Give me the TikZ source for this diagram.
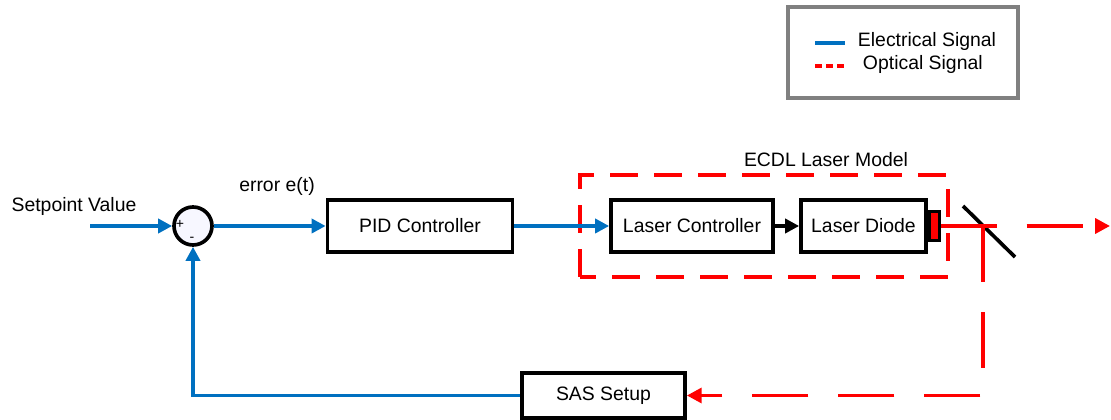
\documentclass[tikz,border=0pt]{standalone}
\usepackage{fontspec}
\setmainfont{Liberation Sans}
\usetikzlibrary{positioning,arrows.meta}
\definecolor{sigblue}{RGB}{0,112,192}
\definecolor{sigred}{RGB}{255,0,0}
\definecolor{framegray}{RGB}{128,128,128}

\begin{document}
\begin{tikzpicture}[x=0.025cm,y=0.025cm,
        every node/.style={font=\fontsize{13.8}{16}\selectfont},
        block/.style={draw,line width=2.6pt,minimum height=1.3cm,inner sep=0pt},
        elec/.style={sigblue,line width=2.6pt,-{Triangle[length=10pt,width=10pt]}},
        opt/.style={sigred,line width=2.6pt,dash pattern=on 1.4cm off 0.75cm,-{Triangle[length=10.5pt,width=10.5pt]}}]
        \useasboundingbox (0,0) rectangle (1111,420);
        % legend
        \draw[framegray,line width=2.8pt] (788,322) rectangle (1018,413);
        \node[anchor=west] (eleg) at (853,379) {Electrical Signal};
        \node[anchor=west] (oleg) at (858,356) {Optical Signal};
        \draw[sigblue,line width=2.6pt] (815,377) -- (845,377);
        \draw[sigred,line width=2.6pt,dash pattern=on 0.175cm off 0.1cm] (815,354) -- (845,354);
        % loop
        \coordinate (sp) at (90,194);
        \node (setpt) at (74,214) {Setpoint Value};
        \node[circle,draw,line width=2.6pt,minimum size=0.95cm,fill=blue!3,inner sep=0pt] (sum) at (193,194) {};
        \node[font=\fontsize{10}{12}\selectfont] (plus) at (180,196) {+};
        \node[font=\fontsize{10}{12}\selectfont] (minus) at (192,181) {-};
        \node (err) at (277,234) {error e(t)};
        \node[block,minimum width=4.625cm] (pid) at (420,194) {PID Controller};
        \draw[sigred,line width=2.6pt,dash pattern=on 0.7cm off 0.4cm] (580,143) rectangle (948,245);
        \node (ecdl) at (826,260) {ECDL Laser Model};
        \node[block,minimum width=4.05cm] (lc) at (692,194) {Laser Controller};
        \node[block,minimum width=3.125cm] (ld) at (863.5,194) {Laser Diode};
        \node[draw,line width=2pt,fill=sigred,minimum width=0.25cm,minimum height=0.725cm,inner sep=0pt,right=0pt of ld] (emit) {};
        \node[block,minimum width=4.075cm,minimum height=1.125cm] (sas) at (603.5,24.5) {SAS Setup};
        \coordinate (bs) at (983,194);
        \coordinate (beamend) at (1110,194);
        \draw[line width=2.6pt] (963,214) -- (1015,163);
        \draw[elec] (sp) -- (sum);
        \draw[elec] (sum) -- (pid);
        \draw[elec] (pid) -- (lc);
        \draw[line width=2.6pt,-{Triangle[length=10pt,width=10pt]}] (lc) -- (ld);
        \draw[elec] (sas) -| (sum);
        \draw[opt] (emit) -- (beamend);
        \draw[opt] (bs) |- (sas);
    \end{tikzpicture}
\end{document}
